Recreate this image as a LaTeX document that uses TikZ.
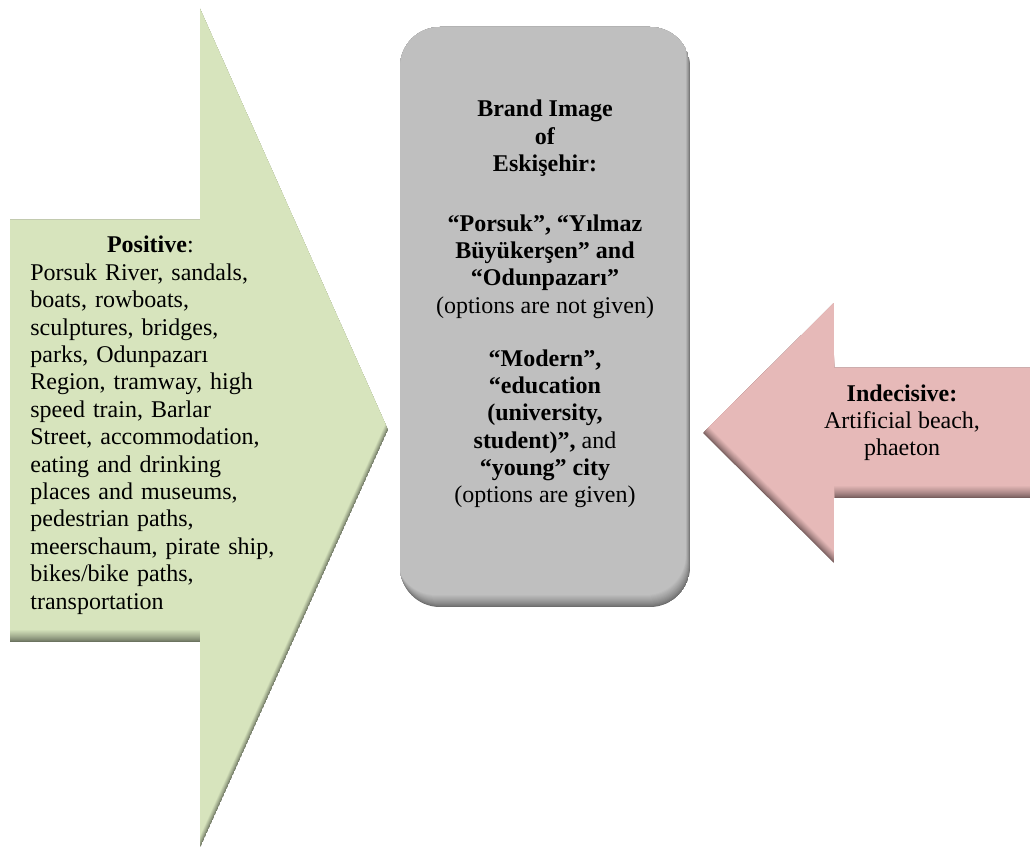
\documentclass[tikz,border=0pt]{standalone}
\usepackage{fontspec}
\setmainfont{Liberation Serif}
\definecolor{pos_green}{RGB}{215, 228, 189}
\definecolor{pos_dark}{RGB}{108, 116, 96}
\definecolor{ind_red}{RGB}{230, 185, 184}
\definecolor{ind_dark}{RGB}{120, 94, 94}
\definecolor{brand_grey}{RGB}{191, 191, 191}
\definecolor{brand_dark}{RGB}{110, 110, 110}
\tikzstyle{txt}=[inner sep=0pt,font=\fontsize{12}{13.7}\selectfont]

% outlines, in pixel units (y grows downwards)
\newcommand{\posarrow}{(10,220) -- (200,220) -- (200,9) -- (388,430) -- (200,848) -- (200,642) -- (10,642) -- cycle}
\newcommand{\indarrow}{(1032,368) -- (834,368) -- (834,303) -- (703,433) -- (834,563) -- (834,498) -- (1032,498) -- cycle}
\newcommand{\brandbox}{[rounded corners=20pt] (400,27) rectangle (690,607)}

% fill a shape, darker towards its lower edges
\newcommand{\bevel}[4]{%
  \begin{scope}
    \clip #1;
    \fill[#3] #1;
    \foreach \k in {1,...,12} {
      \pgfmathsetmacro\shd{100*(\k/12)^0.8}
      \fill[#2!\shd!#3, shift={(-#4*\k,-\k)}] #1;
    }
  \end{scope}}

\begin{document}
\begin{tikzpicture}[x=0.5pt,y=-0.5pt]
    \useasboundingbox (0,0) rectangle (1030,850);
    \bevel{\posarrow}{pos_green}{pos_dark}{0}
    \bevel{\brandbox}{brand_grey}{brand_dark}{0.35}
    \bevel{\indarrow}{ind_red}{ind_dark}{0}

    \node [style=txt,anchor=base west,text width=130pt,align=left] (pos) at (30,253)
      {\makebox[120pt]{\textbf{Positive}:}\\
       Porsuk River, sandals,\\ boats, rowboats,\\ sculptures, bridges,\\
       parks, Odunpazarı\\ Region, tramway, high\\ speed train, Barlar\\
       Street, accommodation,\\ eating and drinking\\
       places and museums,\\ pedestrian paths,\\
       meerschaum, pirate ship,\\ bikes/bike paths,\\ transportation};
    \node [style=txt,anchor=base,align=center] (brand) at (545,503)
      {\textbf{Brand Image}\\ \textbf{of}\\ \textbf{Eskişehir:}\\[16pt]
       \textbf{“Porsuk”, “Yılmaz}\\ \textbf{Büyükerşen” and}\\
       \textbf{“Odunpazarı”}\\ (options are not given)\\[12.7pt]
       \textbf{“Modern”,}\\ \textbf{“education}\\ \textbf{(university,}\\
       \textbf{student)”,} and\\ \textbf{“young” city}\\ (options are given)};
    \node [style=txt,anchor=base,align=center] (ind) at (902,456)
      {\textbf{Indecisive:}\\ Artificial beach,\\ phaeton};
\end{tikzpicture}
\end{document}
